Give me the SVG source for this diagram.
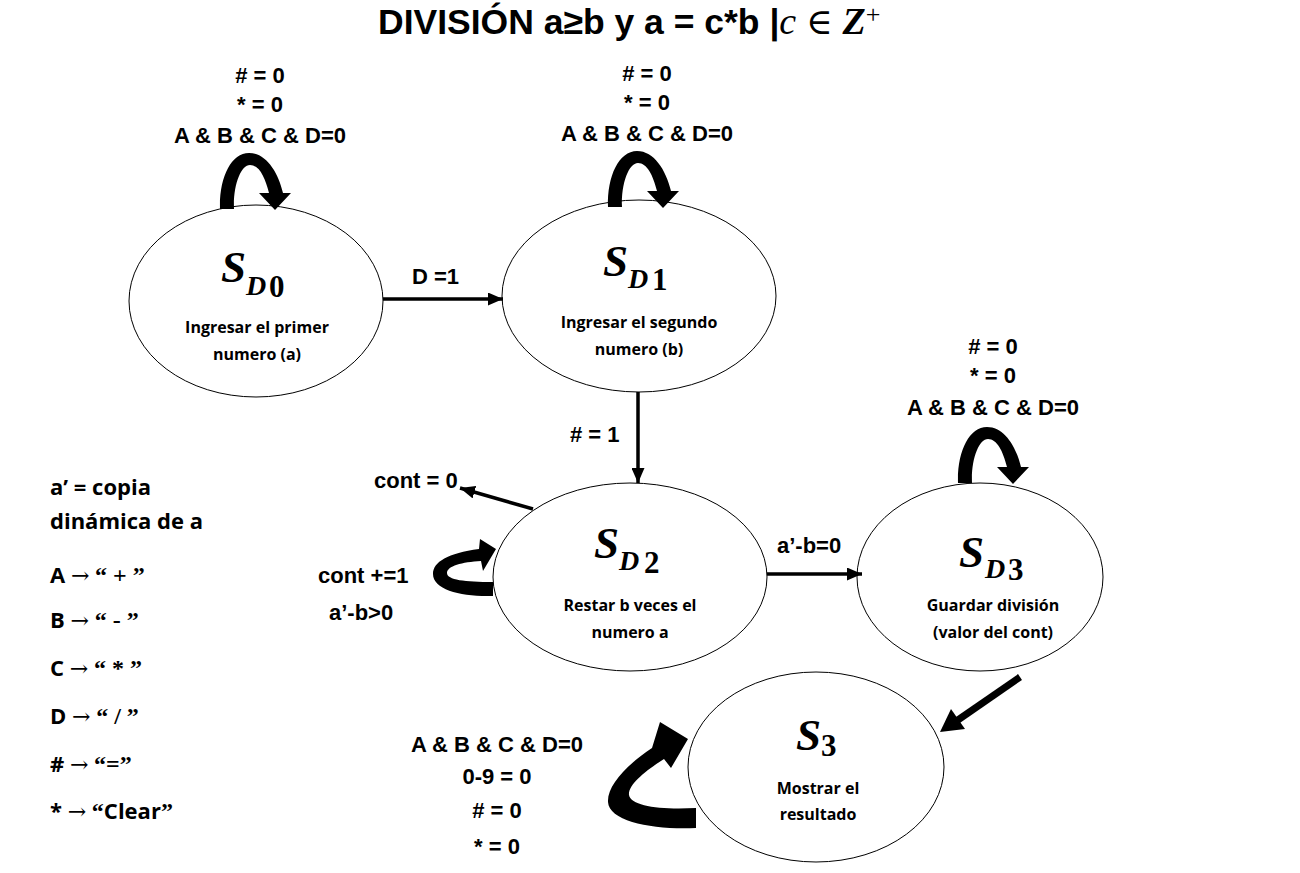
<svg xmlns="http://www.w3.org/2000/svg" width="1300" height="873" viewBox="0 0 1300 873">
<defs>
<style>
.node{fill:#fff;stroke:#000;stroke-width:1}
.st{font-family:"Liberation Serif",serif;font-weight:bold;font-style:italic;font-size:45px;fill:#000}
.sd{font-family:"Liberation Serif",serif;font-weight:bold;font-style:italic;font-size:28px}
.sn{font-family:"Liberation Serif",serif;font-weight:bold;font-style:normal;font-size:31px}
.desc{font-family:"Open Sans","Liberation Sans",sans-serif;font-weight:700;font-size:16px;text-anchor:middle;fill:#000}
.lbl{font-family:"Liberation Sans",Arial,sans-serif;font-weight:bold;font-size:22px;text-anchor:middle;fill:#000}
.el{font-family:"Liberation Sans",Arial,sans-serif;font-weight:bold;font-size:22px;fill:#000}
.leg{font-family:"Open Sans","Liberation Sans",sans-serif;font-weight:700;font-size:22px;fill:#000}
.ar{font-family:"DejaVu Serif",serif;font-weight:normal;font-size:22px}
.q{font-family:"Liberation Serif",serif;font-weight:bold;font-size:24px}
.edge{stroke:#000;stroke-width:3.5;fill:none}
.loop{fill:#000;stroke:none}
</style>
<marker id="ah" markerUnits="userSpaceOnUse" markerWidth="15" markerHeight="13" refX="15" refY="6.5" orient="auto">
<path d="M0,0 L15,6.5 L0,13 Z" fill="#000"/>
</marker>
<path id="topLoop" d="M220,209 C219,178 231,153 249,153 C266,153 278,172 283,193 L291,193 L275,210 L259,193 L269,193 C265,177 259,165 250,165 C241,165 233,185 234,209 Z"/>
</defs>
<rect width="1300" height="873" fill="#fff"/>

<text x="378" y="34" font-family="Liberation Sans, Arial, sans-serif" font-weight="bold" font-size="35.5">DIVISIÓN a≥b y a = c*b |<tspan font-family="Liberation Serif, serif" font-style="italic" font-weight="normal" font-size="38">c</tspan> <tspan font-family="DejaVu Serif, serif" font-weight="normal" font-size="36">∈</tspan> <tspan font-family="Liberation Serif, serif" font-style="italic" font-weight="bold" font-size="38">Z</tspan><tspan font-family="Liberation Serif, serif" font-weight="normal" font-size="26" dy="-11">+</tspan></text>

<g id="node-SD0">
<ellipse class="node" cx="256" cy="301" rx="127" ry="96"/>
<text class="st" x="221" y="282">S<tspan class="sd" x="246" y="295">D</tspan><tspan class="sn" x="269" y="297">0</tspan></text>
<text class="desc" x="257" y="333">Ingresar el primer</text>
<text class="desc" x="257" y="360">numero (a)</text>
</g>

<g id="node-SD1">
<ellipse class="node" cx="639" cy="296" rx="137" ry="96"/>
<text class="st" x="603" y="276">S<tspan class="sd" x="628" y="288">D</tspan><tspan class="sn" x="652" y="290">1</tspan></text>
<text class="desc" x="639" y="328">Ingresar el segundo</text>
<text class="desc" x="639" y="355">numero (b)</text>
</g>

<g id="node-SD2">
<ellipse class="node" cx="630" cy="577" rx="137" ry="94"/>
<text class="st" x="594" y="558">S<tspan class="sd" x="619" y="570">D</tspan><tspan class="sn" x="644" y="573">2</tspan></text>
<text class="desc" x="630" y="611">Restar b veces el</text>
<text class="desc" x="630" y="638">numero a</text>
</g>

<g id="node-SD3">
<ellipse class="node" cx="980" cy="577" rx="123" ry="94"/>
<text class="st" x="959" y="567">S<tspan class="sd" x="985" y="578">D</tspan><tspan class="sn" x="1008" y="580">3</tspan></text>
<text class="desc" x="993" y="611">Guardar división</text>
<text class="desc" x="993" y="638">(valor del cont)</text>
</g>

<g id="node-S3">
<ellipse class="node" cx="816" cy="767" rx="128" ry="95"/>
<text class="st" x="796" y="750">S<tspan class="sn" x="821" y="756">3</tspan></text>
<text class="desc" x="818" y="794">Mostrar el</text>
<text class="desc" x="818" y="820">resultado</text>
</g>

<g id="connectors">
<line class="edge" x1="383" y1="299" x2="503" y2="299" marker-end="url(#ah)"/>
<line class="edge" x1="638" y1="392" x2="638" y2="483" marker-end="url(#ah)"/>
<line class="edge" x1="767" y1="574" x2="862" y2="574" marker-end="url(#ah)"/>
<line class="edge" x1="533" y1="509" x2="460" y2="488" stroke-width="4" marker-end="url(#ah)"/>
<line x1="1020" y1="677" x2="955" y2="722" stroke="#000" stroke-width="7"/>
<polygon points="940,732 951,709 965,729" fill="#000"/>
<use href="#topLoop" class="loop"/>
<use href="#topLoop" class="loop" transform="translate(388,-2)"/>
<use href="#topLoop" class="loop" transform="translate(738,274)"/>
<path class="loop" d="M493,596 C462,597 433,590 433,574 C433,562 448,553 479,549 L480,539 L496,549 L483,571 L481,561 C462,562 447,566 447,573 C447,580 465,582 493,582 Z"/>
<path class="loop" d="M696,828 C655,830 609,822 608,802 C607,785 628,764 652,748 L660,722 L688,739 L671,768 L664,759 C645,771 628,785 629,795 C631,806 660,810 696,808 Z"/>
</g>

<g id="labels">
<text class="lbl" x="260" y="83">#  = 0</text>
<text class="lbl" x="260" y="112">* = 0</text>
<text class="lbl" x="260" y="143">A &amp; B &amp; C &amp; D=0</text>
<text class="lbl" x="647" y="81">#  = 0</text>
<text class="lbl" x="647" y="110">* = 0</text>
<text class="lbl" x="647" y="141">A &amp; B &amp; C &amp; D=0</text>
<text class="lbl" x="993" y="354">#  = 0</text>
<text class="lbl" x="993" y="383">* = 0</text>
<text class="lbl" x="993" y="415">A &amp; B &amp; C &amp; D=0</text>
<text class="lbl" x="497" y="752">A &amp; B &amp; C &amp; D=0</text>
<text class="lbl" x="497" y="784">0-9 = 0</text>
<text class="lbl" x="497" y="818">#  = 0</text>
<text class="lbl" x="497" y="854">* = 0</text>
<text class="el" x="412" y="284">D =1</text>
<text class="el" x="570" y="442">#  = 1</text>
<text class="el" x="777" y="553">a’-b=0</text>
<text class="el" x="374" y="488">cont = 0</text>
<text class="el" x="318" y="583">cont +=1</text>
<text class="el" x="329" y="620">a’-b&gt;0</text>
</g>

<g id="legend">
<text class="leg" x="50" y="495">a’ = copia</text>
<text class="leg" x="50" y="529">dinámica de a</text>
<text class="leg" x="50" y="583">A <tspan class="ar">→</tspan>  <tspan class="q">“ + ”</tspan></text>
<text class="leg" x="50" y="628">B <tspan class="ar">→</tspan>  <tspan class="q">“ - ”</tspan></text>
<text class="leg" x="50" y="676">C <tspan class="ar">→</tspan>  <tspan class="q">“ * ”</tspan></text>
<text class="leg" x="50" y="724">D <tspan class="ar">→</tspan>  <tspan class="q">“ / ”</tspan></text>
<text class="leg" x="50" y="772"># <tspan class="ar">→</tspan>  <tspan class="q">“=”</tspan></text>
<text class="leg" x="50" y="819">*  <tspan class="ar">→</tspan>  <tspan class="q">“</tspan>Clear<tspan class="q">”</tspan></text>
</g>
</svg>
